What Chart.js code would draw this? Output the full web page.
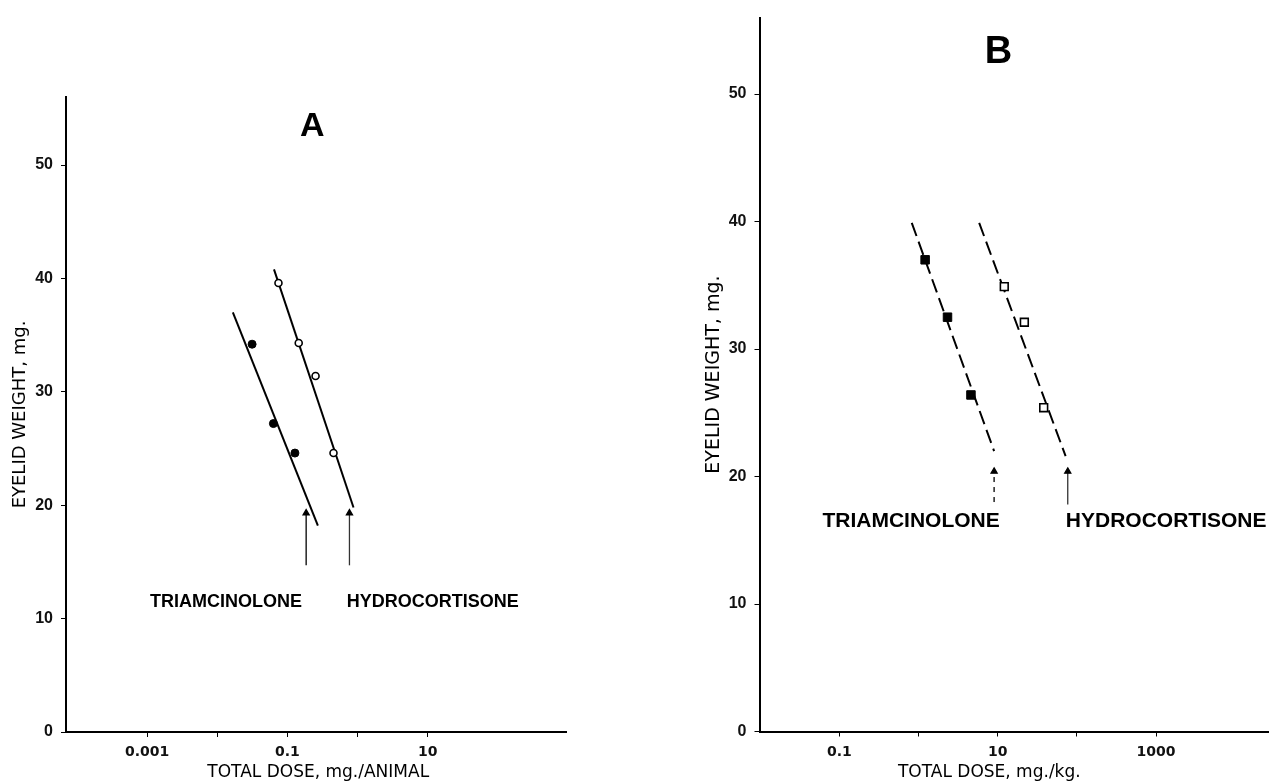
<!DOCTYPE html>
<html>
<head>
<meta charset="utf-8">
<script src="https://cdn.jsdelivr.net/npm/chart.js@4.4.1/dist/chart.umd.min.js"></script>
<style>
    html, body { margin: 0; padding: 0; background: #fff; }
    body { width: 1269px; height: 783px; position: relative; overflow: hidden; }
    canvas { position: absolute; top: 0; }
    #chartA { left: 0; }
    #chartB { left: 640px; }
</style>
</head>
<body>
<canvas id="chartA" width="620" height="783"></canvas>
<canvas id="chartB" width="640" height="783"></canvas>
<script>
// shared y axis (eyelid weight, mg.)
const yTicks = [0, 10, 20, 30, 40, 50];

// Panel A - total dose, mg./animal
const aXTicks = [0.001, 0.01, 0.1, 1, 10];
const aXLabels = ['0.001', '', '0.1', '', '10'];
const aTriamDose = [0.0314, 0.0632, 0.128];
const aTriamWeight = [34.2, 27.2, 24.6];
const aHydroDose = [0.0746, 0.145, 0.252, 0.454];
const aHydroWeight = [39.6, 34.3, 31.4, 24.6];
const aTriamFitDose = [0.0167, 0.272];
const aTriamFitWeight = [37.0, 18.2];
const aHydroFitDose = [0.0644, 0.875];
const aHydroFitWeight = [40.8, 19.8];
const aTriamArrowDose = [0.185, 0.185];
const aHydroArrowDose = [0.766, 0.766];
const aArrowWeight = [14.7, 19.3];

// Panel B - total dose, mg./kg.
const bXTicks = [0.1, 1, 10, 100, 1000];
const bXLabels = ['0.1', '', '10', '', '1000'];
const bTriamDose = [1.21, 2.32, 4.59];
const bTriamWeight = [37.0, 32.5, 26.4];
const bHydroDose = [12.1, 21.7, 38.1];
const bHydroWeight = [34.9, 32.1, 25.4];
const bTriamFitDose = [0.82, 9.0];
const bTriamFitWeight = [39.9, 22.0];
const bHydroFitDose = [5.83, 72.1];
const bHydroFitWeight = [39.9, 21.6];
const bTriamArrowDose = [9.0, 9.0];
const bTriamArrowWeight = [18.0, 20.4];
const bHydroArrowDose = [76.7, 76.7];
const bHydroArrowWeight = [17.8, 20.4];

function pts(xs, ys) {
    return xs.map((x, i) => ({ x: x, y: ys[i] }));
}

// draws panel letter, drug names and the x title
const notesPlugin = {
    id: 'notes',
    afterDatasetsDraw(chart, args, opts) {
        const ctx = chart.ctx;
        const x = chart.scales.x;
        const y = chart.scales.y;
        ctx.save();
        ctx.fillStyle = '#000';
        ctx.textAlign = 'center';
        ctx.textBaseline = 'middle';
        opts.items.forEach(n => {
            ctx.font = n.font;
            const py = n.y === null ? chart.height - 10 : y.getPixelForValue(n.y);
            ctx.fillText(n.text, x.getPixelForValue(n.x), py);
        });
        ctx.restore();
    }
};

function makePanel(id, p) {
    const ctx = document.getElementById(id).getContext('2d');
    return new Chart(ctx, {
        type: 'scatter',
        data: {
            datasets: [
                {
                    data: pts(p.triamDose, p.triamWeight),
                    pointStyle: p.style, pointRadius: p.radius, pointBorderWidth: 1,
                    pointBackgroundColor: '#000', pointBorderColor: '#000'
                },
                {
                    data: pts(p.hydroDose, p.hydroWeight),
                    pointStyle: p.style, pointRadius: p.radius - 0.5, pointBorderWidth: 1.6,
                    pointBackgroundColor: '#fff', pointBorderColor: '#000'
                },
                {
                    data: p.triamFit, showLine: true, pointRadius: 0,
                    borderColor: '#000', borderWidth: 2, borderDash: p.dash
                },
                {
                    data: p.hydroFit, showLine: true, pointRadius: 0,
                    borderColor: '#000', borderWidth: 2, borderDash: p.dash
                },
                {
                    data: p.triamArrow, showLine: true, borderColor: '#000', borderWidth: 1.3,
                    borderDash: p.arrowDash, pointStyle: 'triangle', pointRadius: [0, 3.5],
                    pointBackgroundColor: '#000', pointBorderColor: '#000'
                },
                {
                    data: p.hydroArrow, showLine: true, borderColor: '#333', borderWidth: 1.3,
                    pointStyle: 'triangle', pointRadius: [0, 3.5],
                    pointBackgroundColor: '#000', pointBorderColor: '#000'
                }
            ]
        },
        options: {
            responsive: false,
            animation: false,
            layout: { padding: { top: p.top, right: p.padRight, left: 0, bottom: 0 } },
            plugins: {
                legend: { display: false },
                tooltip: { enabled: false },
                notes: { items: p.notes }
            },
            scales: {
                x: {
                    type: 'logarithmic',
                    min: p.xMin,
                    max: p.xMax,
                    afterFit: s => { s.height = p.xHeight; },
                    afterBuildTicks: s => { s.ticks = p.xTicks.map(v => ({ value: v })); },
                    border: { display: true, color: '#000', width: 2 },
                    grid: { drawOnChartArea: false, drawTicks: true, tickLength: 5, color: '#000' },
                    ticks: {
                        autoSkip: false, maxRotation: 0, padding: 7, color: '#111',
                        font: { family: 'DejaVu Sans', size: 14, weight: 'bold' },
                        callback: (v, i) => p.xLabels[i]
                    }
                },
                y: {
                    type: 'linear',
                    min: 0,
                    max: 56,
                    afterFit: s => { s.width = p.yWidth; },
                    afterBuildTicks: s => { s.ticks = yTicks.map(v => ({ value: v })); },
                    border: { display: true, color: '#000', width: 2 },
                    grid: { drawOnChartArea: false, drawTicks: true, tickLength: 5, color: '#000' },
                    ticks: {
                        padding: 8, color: '#111',
                        font: { family: 'Liberation Sans', size: 16, weight: 'bold' }
                    },
                    title: {
                        display: true, text: 'EYELID WEIGHT, mg.', color: '#000',
                        font: { family: 'DejaVu Sans', size: p.yTitleSize },
                        padding: { top: p.yTitlePad, bottom: 0 }
                    }
                }
            }
        },
        plugins: [notesPlugin]
    });
}

makePanel('chartA', {
    triamDose: aTriamDose, triamWeight: aTriamWeight,
    hydroDose: aHydroDose, hydroWeight: aHydroWeight,
    triamFit: pts(aTriamFitDose, aTriamFitWeight),
    hydroFit: pts(aHydroFitDose, aHydroFitWeight),
    triamArrow: pts(aTriamArrowDose, aArrowWeight),
    hydroArrow: pts(aHydroArrowDose, aArrowWeight),
    style: 'circle', radius: 4, dash: [], arrowDash: [],
    xTicks: aXTicks, xLabels: aXLabels,
    xMin: Math.pow(10, -4.15), xMax: Math.pow(10, 2.97),
    top: 97, padRight: 54, xHeight: 51, yWidth: 66,
    yTitleSize: 18, yTitlePad: 10,
    notes: [
        { text: 'A', x: 0.226, y: 53.4, font: 'bold 34px "Liberation Sans"' },
        { text: 'TRIAMCINOLONE', x: 0.01336, y: 11.5, font: 'bold 18px "Liberation Sans"' },
        { text: 'HYDROCORTISONE', x: 11.8, y: 11.5, font: 'bold 18px "Liberation Sans"' },
        { text: 'TOTAL DOSE, mg./ANIMAL', x: 0.275, y: null, font: '17px "DejaVu Sans"' }
    ]
});

makePanel('chartB', {
    triamDose: bTriamDose, triamWeight: bTriamWeight,
    hydroDose: bHydroDose, hydroWeight: bHydroWeight,
    triamFit: pts(bTriamFitDose, bTriamFitWeight),
    hydroFit: pts(bHydroFitDose, bHydroFitWeight),
    triamArrow: pts(bTriamArrowDose, bTriamArrowWeight),
    hydroArrow: pts(bHydroArrowDose, bHydroArrowWeight),
    style: 'rect', radius: 6, dash: [14, 6], arrowDash: [5, 5],
    xTicks: bXTicks, xLabels: bXLabels,
    xMin: Math.pow(10, -2.01), xMax: Math.pow(10, 4.477),
    top: 15, padRight: 0, xHeight: 51.5, yWidth: 119.5,
    yTitleSize: 19, yTitlePad: 63,
    notes: [
        { text: 'B', x: 10.2, y: 53.3, font: 'bold 38px "Liberation Sans"' },
        { text: 'TRIAMCINOLONE', x: 0.805, y: 16.5, font: 'bold 21px "Liberation Sans"' },
        { text: 'HYDROCORTISONE', x: 1343, y: 16.5, font: 'bold 21px "Liberation Sans"' },
        { text: 'TOTAL DOSE, mg./kg.', x: 7.83, y: null, font: '17px "DejaVu Sans"' }
    ]
});
</script>
</body>
</html>
